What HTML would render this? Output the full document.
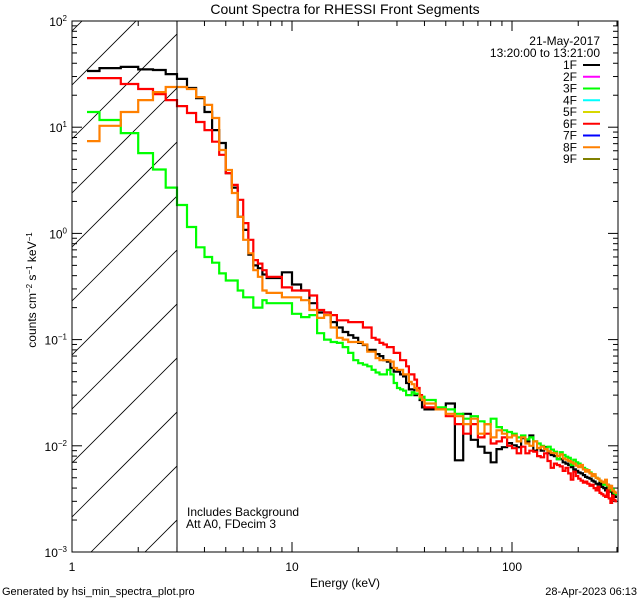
<!DOCTYPE html>
<html><head><meta charset="utf-8"><style>
html,body{margin:0;padding:0;background:#fff;}
svg{display:block;font-family:"Liberation Sans",sans-serif;}
</style></head><body>
<svg id="chart" width="640" height="600" viewBox="0 0 640 600" xmlns="http://www.w3.org/2000/svg">
<rect x="0" y="0" width="640" height="600" fill="#fff"/>
<text x="345" y="14" font-size="14" text-anchor="middle">Count Spectra for RHESSI Front Segments</text>
<g id="hatch"></g>
<g id="ticks"></g>
<g id="series"></g>
<rect x="72" y="21" width="546" height="531" fill="none" stroke="#000" stroke-width="1"/>
<line x1="177" y1="21" x2="177" y2="552" stroke="#000" stroke-width="1"/>
<text transform="translate(36,290) rotate(-90)" font-size="12" text-anchor="middle">counts cm<tspan dy="-4" font-size="8">−2</tspan><tspan dy="4"> s</tspan><tspan dy="-4" font-size="8">−1</tspan><tspan dy="4"> keV</tspan><tspan dy="-4" font-size="8">−1</tspan></text>
<text x="345" y="587" font-size="12" text-anchor="middle">Energy (keV)</text>
<text x="600" y="45" font-size="12" text-anchor="end">21-May-2017</text>
<text x="600" y="57" font-size="12" text-anchor="end">13:20:00 to 13:21:00</text>
<g id="legend"></g>
<text x="187" y="516" font-size="12">Includes Background</text>
<text x="186" y="528" font-size="12">Att A0, FDecim 3</text>
<text x="2" y="595" font-size="11">Generated by hsi_min_spectra_plot.pro</text>
<text x="637" y="595" font-size="11" text-anchor="end">28-Apr-2023 06:13</text>
</svg>
<script>
// energy bin grids (keV)
const lowEdgesStart = 1.17;
const mid = [8, 40];
const high = [40, 300];
// series values, counts cm^-2 s^-1 keV^-1 (low 1/3-keV bins, 1-keV bins 8-40, 5-keV bins 40-300)
const seg1F = [33.8,36,37,35,34.6,31.6,28.5,23.4,18.8,13.9,9.4,7.1,3.7,2.7,1.43,1.08,0.63,0.50,0.47,0.41,0.38,
 .43,.33,.29,.22,.18,.18,.146,.13,.118,.11,.104,.093,.089,.08,.08,.073,.07,.064,.062,.054,.05,.05,.047,.045,.039,.034,.034,.030,.031,.027,.023,.022,
 0.022,0.025,0.0073,0.020,0.0114,0.0098,0.0086,0.0070,0.0093,0.0097,0.0106,0.0101,0.0097,0.0118,0.011,0.0125,0.009,0.0095,0.009,0.0097,0.0085,0.0082,0.008,0.0075,0.0075,0.007,0.0068,0.0066,0.0063,0.006,0.0058,0.0056,0.0055,0.0053,0.0051,0.005,0.0049,0.0047,0.0046,0.0044,0.0043,0.0045,0.0041,0.0040,0.0038,0.0043,0.0042,0.0037,0.0035,0.0034,0.0033,0.0026];
const seg3F = [13.9,11.7,8.8,5.7,4.0,2.7,1.85,1.15,0.74,0.6,0.53,0.42,0.36,0.36,0.29,0.25,0.25,0.2,0.2,0.235,0.22,
 .22,.175,.163,.17,.115,.10,.095,.093,.085,.075,.064,.06,.058,.056,.052,.049,.047,.047,.052,.047,.039,.035,.034,.033,.030,.030,.032,.031,.031,.028,.029,.027,
 0.023,0.022,0.020,0.018,0.019,0.017,0.016,0.018,0.015,0.014,0.0135,0.013,0.012,0.0125,0.0115,0.012,0.011,0.0105,0.010,0.0095,0.0098,0.0092,0.0088,0.0075,0.0087,0.0082,0.0079,0.0077,0.0066,0.0074,0.0070,0.0068,0.0064,0.0062,0.0060,0.0058,0.0056,0.0054,0.0052,0.0050,0.0049,0.0047,0.0046,0.0043,0.0044,0.0042,0.0038,0.0040,0.0039,0.0036,0.0035,0.0032];
const seg6F = [29,29,25.5,22.9,20.5,18,15.8,13.6,11.2,9.4,7.3,5.5,3.7,2.86,2.07,1.25,0.87,0.56,0.52,0.45,0.39,
 .31,.29,.29,.26,.19,.18,.17,.152,.152,.146,.146,.146,.13,.13,.104,.10,.093,.09,.085,.085,.075,.075,.064,.064,.056,.047,.047,.042,.035,.030,.027,.023,
 0.022,0.019,0.016,0.013,0.016,0.012,0.013,0.0105,0.011,0.012,0.010,0.0095,0.0085,0.0098,0.0085,0.009,0.0088,0.008,0.0078,0.0085,0.0072,0.0062,0.0068,0.0066,0.0064,0.0058,0.0062,0.0055,0.0048,0.0057,0.0052,0.0049,0.0047,0.0045,0.0046,0.0044,0.0042,0.0043,0.0040,0.0038,0.0041,0.0036,0.0035,0.0034,0.0033,0.0038,0.0032,0.0029,0.0034,0.0031,0.0030,0.0032];
const seg8F = [7.4,10.3,13.9,18,21.4,23.9,23.9,22.9,19.2,16.2,12.2,6.1,3.95,2.4,1.43,0.87,0.65,0.45,0.39,0.29,0.275,
 .25,.25,.235,.19,.16,.17,.13,.104,.10,.095,.095,.095,.09,.077,.077,.067,.064,.064,.064,.062,.054,.052,.052,.047,.047,.04,.038,.035,.033,.029,.027,.025,
 0.022,0.020,0.019,0.016,0.018,0.013,0.016,0.012,0.014,0.013,0.012,0.0125,0.011,0.012,0.0105,0.010,0.011,0.0095,0.0098,0.0093,0.0089,0.0086,0.0085,0.008,0.0083,0.0076,0.0074,0.0072,0.007,0.0068,0.0065,0.0063,0.0066,0.006,0.0057,0.0059,0.0055,0.0052,0.0054,0.005,0.0049,0.0047,0.0046,0.0045,0.0048,0.0043,0.004,0.0042,0.0038,0.0037,0.0036,0.0035];
const legendLabels = ["1F","2F","3F","4F","5F","6F","7F","8F","9F"];
const legendColors = ["#000000","#ff00ff","#00ff00","#00ffff","#d8d800","#ff0000","#0000ff","#ff8000","#808000"];
const yTickExps = [2,1,0,-1,-2,-3];
const xTickLabels = [1,10,100];

const NS="http://www.w3.org/2000/svg";
const X0=72,X1=618,Y0=21,Y1=552;
const XDEC=220, YDEC=(Y1-Y0)/5;
function xs(e){return X0+Math.log10(e)*XDEC;}
function ys(v){return Y0+(2-Math.log10(v))*YDEC;}
function mk(tag,attrs,parent){const el=document.createElementNS(NS,tag);for(const k in attrs)el.setAttribute(k,attrs[k]);parent.appendChild(el);return el;}

// edges
const edges=[lowEdgesStart];
for(let i=1;i<=20;i++)edges.push(1+i/3);
for(let e=mid[0]+1;e<=mid[1];e++)edges.push(e);
for(let e=high[0]+5;e<=high[1];e+=5)edges.push(e);

// hatch
const hatch=document.getElementById('hatch');
const defs=mk('defs',{},document.getElementById('chart'));
const cp=mk('clipPath',{id:'hc'},defs);
mk('rect',{x:X0,y:Y0,width:177-X0,height:Y1-Y0},cp);
hatch.setAttribute('clip-path','url(#hc)');
for(let c=85-54*3;c<Y1+120;c+=54){
  const ln=mk('line',{x1:X0,y1:c,x2:X0+200,y2:c-200,stroke:'#000','stroke-width':0.8},hatch);
  
  
}

// ticks
const tk=document.getElementById('ticks');
function tline(x1,y1,x2,y2,name){const l=mk('line',{x1,y1,x2,y2,stroke:'#000','stroke-width':1},tk);}
for(const ex of yTickExps){
  const y=ys(Math.pow(10,ex));
  tline(X0,y,X0+10,y,'y-major-tick');tline(X1,y,X1-10,y,'y-major-tick');
  const t=mk('text',{x:X0-5,y:y+5,'font-size':12,'text-anchor':'end'},tk);
  
  
  const a=document.createElementNS(NS,'tspan');a.textContent='10';t.appendChild(a);
  const b=document.createElementNS(NS,'tspan');b.setAttribute('dy','-5');b.setAttribute('font-size','8');b.textContent=(ex<0?'−':'')+Math.abs(ex);t.appendChild(b);
  if(ex>-3)for(let m=2;m<=9;m++){const yy=ys(m*Math.pow(10,ex-1));tline(X0,yy,X0+5,yy,'y-minor-tick');tline(X1,yy,X1-5,yy,'y-minor-tick');}
}
for(let d=0;d<3;d++){
  for(let m=1;m<=9;m++){
    const e=m*Math.pow(10,d);const x=xs(e);if(x>X1)break;
    const L=m===1?10:5;
    tline(x,Y1,x,Y1-L,'x-tick');tline(x,Y0,x,Y0+L,'x-tick');
  }
}
for(const v of xTickLabels){
  const t=mk('text',{x:xs(v),y:Y1+19,'font-size':12,'text-anchor':'middle'},tk);
  
  
  t.textContent=v;
}

// series
const sg=document.getElementById('series');
function drawSeries(vals,color,name){
  let d='';
  for(let i=0;i<vals.length&&i+1<edges.length;i++){
    const x1=xs(edges[i]),x2=xs(edges[i+1]),y=ys(vals[i]);
    d+=(i===0?'M':'L')+x1.toFixed(1)+','+y.toFixed(1)+'L'+x2.toFixed(1)+','+y.toFixed(1);
  }
  const p=mk('path',{d,fill:'none',stroke:color,'stroke-width':2.2},sg);
  
  
}
drawSeries(seg1F,'#000000','series-1f');
drawSeries(seg3F,'#00ff00','series-3f');
drawSeries(seg6F,'#ff0000','series-6f');
drawSeries(seg8F,'#ff8000','series-8f');

// legend
const lg=document.getElementById('legend');
legendLabels.forEach((lab,i)=>{
  const y=69+i*11.75;
  const t=mk('text',{x:577,y:y,'font-size':12,'text-anchor':'end'},lg);
  
  
  t.textContent=lab;
  const l=mk('line',{x1:583,y1:y-4,x2:600,y2:y-4,stroke:legendColors[i],'stroke-width':2},lg);
  
  
});
</script>
</body></html>
